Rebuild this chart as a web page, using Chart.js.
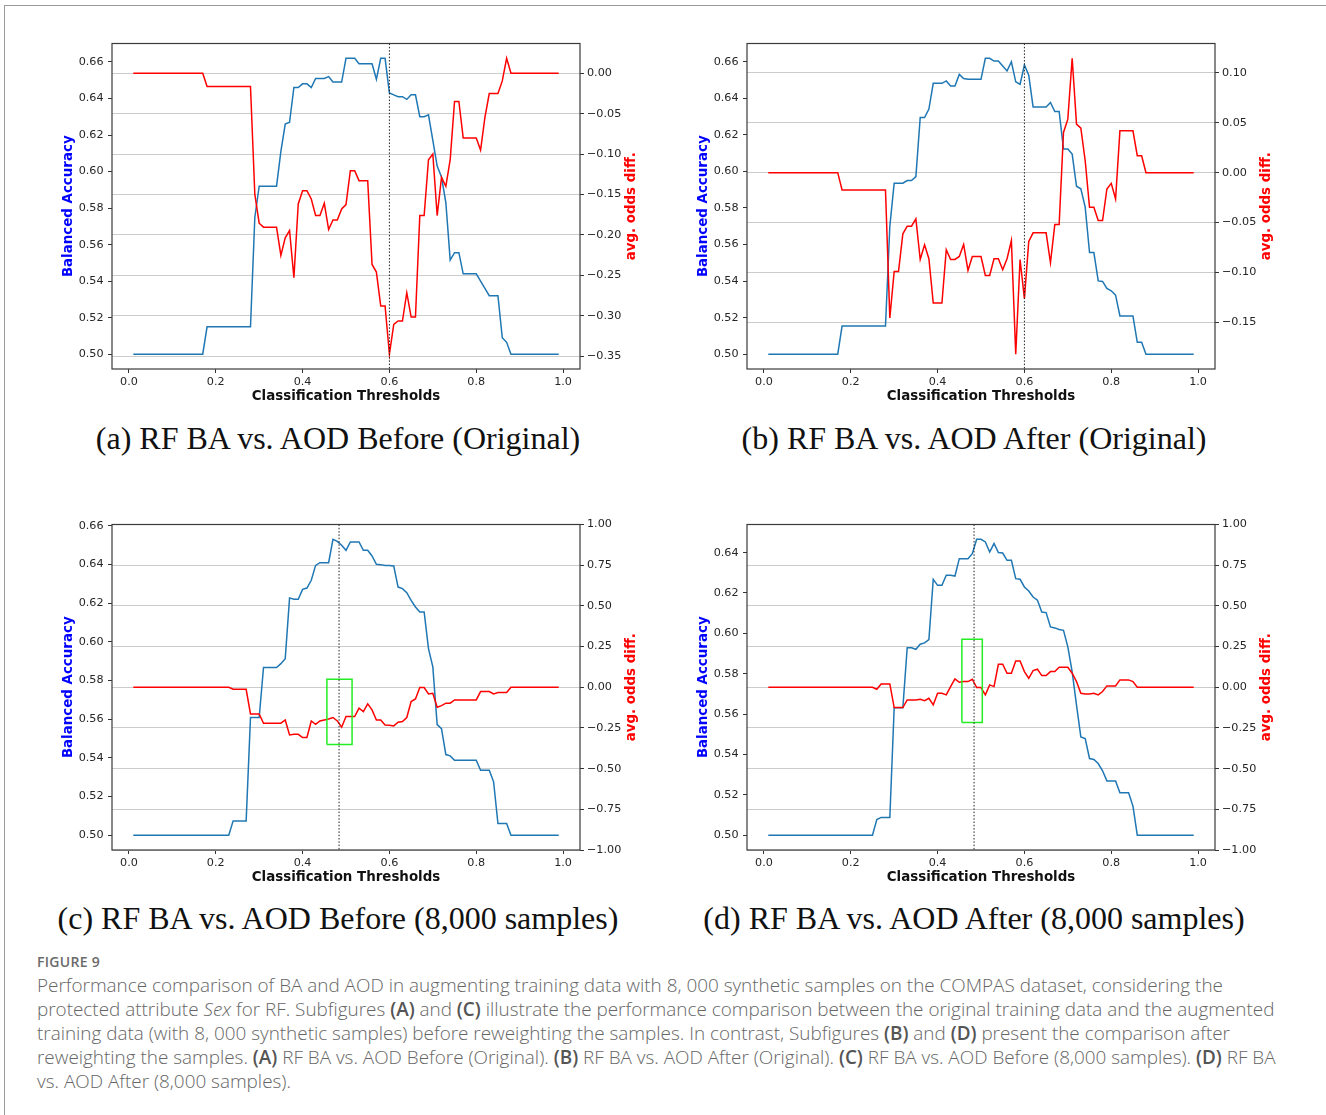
<!doctype html>
<html lang="en">
<head>
<meta charset="utf-8">
<title>Figure 9 - RF BA vs. AOD</title>
<style>
  * { margin: 0; padding: 0; }
  body { width: 1326px; height: 1115px; position: relative; overflow: hidden; background: #fff; }
  .frame { position: absolute; left: 4px; top: 5px; right: 0; bottom: 0; border-top: 1.5px solid #9a9a9a; border-left: 1.5px solid #9a9a9a; }
  canvas { position: absolute; }
  .sub { position: absolute; width: 640px; text-align: center; font-family: "Liberation Serif", serif; font-size: 32px; line-height: 36px; color: #111; white-space: nowrap; }
  .figlabel { position: absolute; left: 37px; top: 953px; font-family: "Open Sans", sans-serif; font-weight: 600; font-size: 14px; line-height: 18px; color: #6b6b6b; letter-spacing: 0.3px; }
  .caption { position: absolute; left: 37px; top: 973px; font-family: "Open Sans", sans-serif; font-weight: 300; font-size: 18.9px; line-height: 24px; color: #666; white-space: nowrap; }
  .caption b { font-weight: 600; color: #555; }
</style>
</head>
<body>
<div class="frame"></div>

<canvas id="chartA" width="620" height="380" style="left:40px; top:30px"></canvas>
<canvas id="chartB" width="620" height="380" style="left:675px; top:30px"></canvas>
<canvas id="chartC" width="620" height="380" style="left:40px; top:511px"></canvas>
<canvas id="chartD" width="620" height="380" style="left:675px; top:511px"></canvas>

<div class="sub" style="left:18px; top:420px">(a) RF BA vs. AOD Before (Original)</div>
<div class="sub" style="left:654px; top:420px">(b) RF BA vs. AOD After (Original)</div>
<div class="sub" style="left:18px; top:900px">(c) RF BA vs. AOD Before (8,000 samples)</div>
<div class="sub" style="left:654px; top:900px">(d) RF BA vs. AOD After (8,000 samples)</div>

<div class="figlabel">FIGURE 9</div>
<div class="caption">Performance comparison of BA and AOD in augmenting training data with 8, 000 synthetic samples on the COMPAS dataset, considering the<br>protected attribute <i>Sex</i> for RF. Subfigures <b>(A)</b> and <b>(C)</b> illustrate the performance comparison between the original training data and the augmented<br>training data (with 8, 000 synthetic samples) before reweighting the samples. In contrast, Subfigures <b>(B)</b> and <b>(D)</b> present the comparison after<br>reweighting the samples. <b>(A)</b> RF BA vs. AOD Before (Original). <b>(B)</b> RF BA vs. AOD After (Original). <b>(C)</b> RF BA vs. AOD Before (8,000 samples). <b>(D)</b> RF BA<br>vs. AOD After (8,000 samples).</div>

<script src="https://cdn.jsdelivr.net/npm/chart.js"></script>
<script>
// classification thresholds (x)
const thresholds = [
  0.01, 0.02, 0.03, 0.04, 0.05, 0.06, 0.07, 0.08, 0.09, 0.10,
  0.11, 0.12, 0.13, 0.14, 0.15, 0.16, 0.17, 0.18, 0.19, 0.20,
  0.21, 0.22, 0.23, 0.24, 0.25, 0.26, 0.27, 0.28, 0.29, 0.30,
  0.31, 0.32, 0.33, 0.34, 0.35, 0.36, 0.37, 0.38, 0.39, 0.40,
  0.41, 0.42, 0.43, 0.44, 0.45, 0.46, 0.47, 0.48, 0.49, 0.50,
  0.51, 0.52, 0.53, 0.54, 0.55, 0.56, 0.57, 0.58, 0.59, 0.60,
  0.61, 0.62, 0.63, 0.64, 0.65, 0.66, 0.67, 0.68, 0.69, 0.70,
  0.71, 0.72, 0.73, 0.74, 0.75, 0.76, 0.77, 0.78, 0.79, 0.80,
  0.81, 0.82, 0.83, 0.84, 0.85, 0.86, 0.87, 0.88, 0.89, 0.90,
  0.91, 0.92, 0.93, 0.94, 0.95, 0.96, 0.97, 0.98, 0.99
];

// (a) before reweighting, original data
const baBeforeOrig = [
  0.500, 0.500, 0.500, 0.500, 0.500, 0.500, 0.500, 0.500, 0.500, 0.500,
  0.500, 0.500, 0.500, 0.500, 0.500, 0.500, 0.500, 0.515, 0.515, 0.515,
  0.515, 0.515, 0.515, 0.515, 0.515, 0.515, 0.515, 0.515, 0.575, 0.592,
  0.592, 0.592, 0.592, 0.592, 0.611, 0.626, 0.627, 0.646, 0.646, 0.648,
  0.648, 0.646, 0.651, 0.651, 0.651, 0.652, 0.649, 0.649, 0.649, 0.662,
  0.662, 0.662, 0.659, 0.659, 0.659, 0.659, 0.6505, 0.662, 0.662, 0.643,
  0.642, 0.641, 0.641, 0.6395, 0.642, 0.642, 0.630, 0.630, 0.631, 0.617,
  0.603, 0.597, 0.583, 0.5515, 0.5556, 0.5556, 0.544, 0.544, 0.544, 0.544,
  0.540, 0.536, 0.532, 0.532, 0.532, 0.509, 0.5065, 0.500, 0.500, 0.500,
  0.500, 0.500, 0.500, 0.500, 0.500, 0.500, 0.500, 0.500, 0.500
];
const aodBeforeOrig = [
  0, 0, 0, 0, 0, 0, 0, 0, 0, 0,
  0, 0, 0, 0, 0, 0, 0, -0.0165, -0.0165, -0.0165,
  -0.0165, -0.0165, -0.0165, -0.0165, -0.0165, -0.0165, -0.0165, -0.0165, -0.15, -0.1856,
  -0.1905, -0.1905, -0.1905, -0.1905, -0.2255, -0.2037, -0.1947, -0.2531, -0.1617, -0.1453,
  -0.1453, -0.1556, -0.1761, -0.1761, -0.1609, -0.1934, -0.1815, -0.1815, -0.1679, -0.1626,
  -0.1206, -0.1206, -0.1329, -0.1329, -0.1329, -0.2366, -0.2461, -0.2881, -0.2881, -0.3477,
  -0.3107, -0.3066, -0.3066, -0.2716, -0.3016, -0.3016, -0.1761, -0.1761, -0.1070, -0.1000,
  -0.1761, -0.1288, -0.1399, -0.1070, -0.0350, -0.0350, -0.0802, -0.0802, -0.0802, -0.0802,
  -0.0951, -0.0547, -0.0251, -0.0251, -0.0251, -0.0095, 0.0185, 0, 0, 0,
  0, 0, 0, 0, 0, 0, 0, 0, 0
];

// (b) after reweighting, original data
const baAfterOrig = [
  0.500, 0.500, 0.500, 0.500, 0.500, 0.500, 0.500, 0.500, 0.500, 0.500,
  0.500, 0.500, 0.500, 0.500, 0.500, 0.500, 0.500, 0.5154, 0.5154, 0.5154,
  0.5154, 0.5154, 0.5154, 0.5154, 0.5154, 0.5154, 0.5154, 0.5154, 0.570, 0.5936,
  0.5936, 0.5936, 0.595, 0.595, 0.5972, 0.6295, 0.6295, 0.6341, 0.6482, 0.6482,
  0.6482, 0.6495, 0.6468, 0.6468, 0.6531, 0.6508, 0.6504, 0.6504, 0.6504, 0.6504,
  0.6619, 0.6619, 0.6604, 0.6604, 0.6577, 0.655, 0.660, 0.649, 0.6477, 0.6582,
  0.6526, 0.6353, 0.6353, 0.6353, 0.6353, 0.6377, 0.6328, 0.6328, 0.6123, 0.6123,
  0.6095, 0.5919, 0.5905, 0.5805, 0.5556, 0.5556, 0.5401, 0.5398, 0.536, 0.5347,
  0.5323, 0.5209, 0.5209, 0.5209, 0.5209, 0.5065, 0.5065, 0.500, 0.500, 0.500,
  0.500, 0.500, 0.500, 0.500, 0.500, 0.500, 0.500, 0.500, 0.500
];
const aodAfterOrig = [
  0, 0, 0, 0, 0, 0, 0, 0, 0, 0,
  0, 0, 0, 0, 0, 0, 0, -0.0173, -0.0173, -0.0173,
  -0.0173, -0.0173, -0.0173, -0.0173, -0.0173, -0.0173, -0.0173, -0.0173, -0.1457, -0.099,
  -0.099, -0.0613, -0.0537, -0.0537, -0.0463, -0.087, -0.0723, -0.0863, -0.1307, -0.1307,
  -0.1307, -0.0773, -0.087, -0.087, -0.084, -0.072, -0.098, -0.084, -0.084, -0.084,
  -0.103, -0.103, -0.0863, -0.0863, -0.0973, -0.0863, -0.068, -0.182, -0.087, -0.1263,
  -0.069, -0.0603, -0.0603, -0.0603, -0.0603, -0.0903, -0.052, -0.052, 0.0403, 0.0537,
  0.1147, 0.0487, 0.0447, 0.012, -0.0347, -0.0347, -0.048, -0.048, -0.0163, -0.0107,
  -0.0263, 0.042, 0.042, 0.042, 0.042, 0.017, 0.017, 0, 0, 0,
  0, 0, 0, 0, 0, 0, 0, 0, 0
];

// (c) before reweighting, 8,000 synthetic samples
const baBefore8k = [
  0.500, 0.500, 0.500, 0.500, 0.500, 0.500, 0.500, 0.500, 0.500, 0.500,
  0.500, 0.500, 0.500, 0.500, 0.500, 0.500, 0.500, 0.500, 0.500, 0.500,
  0.500, 0.500, 0.500, 0.5074, 0.5074, 0.5074, 0.5074, 0.5608, 0.5608, 0.5608,
  0.5867, 0.5867, 0.5867, 0.5867, 0.5887, 0.5913, 0.6227, 0.622, 0.622, 0.6271,
  0.6278, 0.6318, 0.6395, 0.6409, 0.6409, 0.6409, 0.653, 0.6519, 0.6499, 0.6473,
  0.6516, 0.6516, 0.6516, 0.6473, 0.6473, 0.6444, 0.6401, 0.6399, 0.6395, 0.6395,
  0.6392, 0.6283, 0.6275, 0.6254, 0.6214, 0.618, 0.6154, 0.6154, 0.5965, 0.587,
  0.5572, 0.5551, 0.5417, 0.541, 0.5388, 0.5388, 0.5388, 0.5388, 0.5388, 0.5388,
  0.5336, 0.5336, 0.5336, 0.5276, 0.506, 0.506, 0.506, 0.500, 0.500, 0.500,
  0.500, 0.500, 0.500, 0.500, 0.500, 0.500, 0.500, 0.500, 0.500
];
const aodBefore8k = [
  0, 0, 0, 0, 0, 0, 0, 0, 0, 0,
  0, 0, 0, 0, 0, 0, 0, 0, 0, 0,
  0, 0, 0, -0.0123, -0.0123, -0.0123, -0.0123, -0.164, -0.164, -0.164,
  -0.221, -0.221, -0.221, -0.221, -0.221, -0.2008, -0.293, -0.289, -0.289, -0.309,
  -0.309, -0.207, -0.2275, -0.207, -0.201, -0.195, -0.186, -0.207, -0.246, -0.18,
  -0.18, -0.18, -0.129, -0.15, -0.102, -0.139, -0.201, -0.201, -0.2316, -0.234,
  -0.2377, -0.215, -0.211, -0.186, -0.088, -0.0717, -0.002, -0.002, -0.041, -0.037,
  -0.123, -0.1127, -0.098, -0.098, -0.078, -0.078, -0.078, -0.078, -0.078, -0.078,
  -0.0266, -0.0266, -0.0266, -0.041, -0.0328, -0.0328, -0.0328, 0, 0, 0,
  0, 0, 0, 0, 0, 0, 0, 0, 0
];

// (d) after reweighting, 8,000 synthetic samples
const baAfter8k = [
  0.500, 0.500, 0.500, 0.500, 0.500, 0.500, 0.500, 0.500, 0.500, 0.500,
  0.500, 0.500, 0.500, 0.500, 0.500, 0.500, 0.500, 0.500, 0.500, 0.500,
  0.500, 0.500, 0.500, 0.500, 0.500, 0.5078, 0.5088, 0.5088, 0.5088, 0.5631,
  0.5631, 0.5631, 0.5929, 0.5929, 0.5921, 0.5946, 0.5953, 0.5969, 0.6268, 0.6238,
  0.6238, 0.6288, 0.6288, 0.6284, 0.637, 0.637, 0.637, 0.6395, 0.6466, 0.6466,
  0.6453, 0.6403, 0.6445, 0.640, 0.6398, 0.6362, 0.6362, 0.6271, 0.6268, 0.623,
  0.621, 0.618, 0.6164, 0.6106, 0.6103, 0.6032, 0.6027, 0.6019, 0.6015, 0.5933,
  0.5809, 0.5644, 0.5487, 0.5479, 0.538, 0.5375, 0.5355, 0.5319, 0.5269, 0.5269,
  0.5269, 0.521, 0.521, 0.521, 0.5144, 0.500, 0.500, 0.500, 0.500, 0.500,
  0.500, 0.500, 0.500, 0.500, 0.500, 0.500, 0.500, 0.500, 0.500
];
const aodAfter8k = [
  0, 0, 0, 0, 0, 0, 0, 0, 0, 0,
  0, 0, 0, 0, 0, 0, 0, 0, 0, 0,
  0, 0, 0, 0, 0, -0.0123, 0.0205, 0.0205, 0.0205, -0.125,
  -0.125, -0.125, -0.0779, -0.0779, -0.0779, -0.0738, -0.082, -0.0676, -0.1086, -0.0369,
  -0.0369, -0.0471, 0.0041, 0.0512, 0.0307, 0.0348, 0.0348, 0.0492, -0.002, -0.002,
  -0.0471, 0.0143, 0.0041, 0.1414, 0.1414, 0.0861, 0.0861, 0.1619, 0.1619, 0.0963,
  0.0553, 0.1025, 0.1107, 0.0717, 0.0717, 0.0963, 0.0963, 0.123, 0.123, 0.123,
  0.0861, 0.0348, -0.0369, -0.041, -0.041, -0.0369, -0.0471, -0.0266, 0.0082, 0.0082,
  0.0082, 0.0451, 0.0451, 0.0451, 0.0348, 0, 0, 0, 0, 0,
  0, 0, 0, 0, 0, 0, 0, 0, 0
];

// tick labels
const xTicks = [0.0, 0.2, 0.4, 0.6, 0.8, 1.0];
const baTicks = [0.50, 0.52, 0.54, 0.56, 0.58, 0.60, 0.62, 0.64, 0.66];
const baTicksD = [0.50, 0.52, 0.54, 0.56, 0.58, 0.60, 0.62, 0.64];
const aodTicksA = [0.00, -0.05, -0.10, -0.15, -0.20, -0.25, -0.30, -0.35];
const aodTicksB = [0.10, 0.05, 0.00, -0.05, -0.10, -0.15];
const aodTicks8k = [1.00, 0.75, 0.50, 0.25, 0.00, -0.25, -0.50, -0.75, -1.00];
const aodLimits8k = [-1, 1];

// chosen threshold (dotted line) and highlighted region [x0, x1, y0, y1] on the AOD axis
const bestThreshold = { A: 0.6, B: 0.6, C: 0.484, D: 0.484 };
const highlightC = [0.456, 0.514, -0.352, 0.049];
const highlightD = [0.456, 0.503, -0.217, 0.295];

// --- helpers ---
function autoRange(values) {
  const lo = Math.min(...values), hi = Math.max(...values);
  const m = (hi - lo) * 0.05;
  return [lo - m, hi + m];
}
const fmt = (v, d) => v.toFixed(d).replace('-', '\u2212');
const pts = ys => thresholds.map((t, i) => ({ x: t, y: ys[i] }));

const TICK_FONT = { family: 'DejaVu Sans', size: 11.2 };
const TITLE_FONT = { family: 'DejaVu Sans', size: 13.4, weight: 'bold' };

const frame = {
  id: 'frame',
  afterDatasetsDraw(chart, args, opts) {
    const { ctx, chartArea: a, scales } = chart;
    const x = scales.x.getPixelForValue(opts.best);
    ctx.save();
    ctx.strokeStyle = '#222';
    ctx.lineWidth = 1;
    ctx.setLineDash([1.5, 1.8]);
    ctx.beginPath();
    ctx.moveTo(x, a.top);
    ctx.lineTo(x, a.bottom);
    ctx.stroke();
    ctx.setLineDash([]);
    ctx.strokeStyle = '#3a3a3a';
    ctx.lineWidth = 1.2;
    ctx.strokeRect(a.left, a.top, a.right - a.left, a.bottom - a.top);
    // right axis title reads bottom-to-top like the left one
    ctx.translate(scales.y2.right - 28.5, (a.top + a.bottom) / 2);
    ctx.rotate(-Math.PI / 2);
    ctx.font = 'bold 13.4px "DejaVu Sans"';
    ctx.fillStyle = '#ff0000';
    ctx.textAlign = 'center';
    ctx.textBaseline = 'middle';
    ctx.fillText('avg. odds diff.', 0, 0);
    ctx.restore();
  }
};

function makeChart(id, ba, aod, leftTicks, rightTicks, rightLimits, best, box) {
  const baRange = autoRange(ba);
  const aodRange = rightLimits || autoRange(aod);

  const datasets = [
    { data: pts(aod), yAxisID: 'y2', borderColor: '#ff0000' },
    { data: pts(ba), yAxisID: 'y', borderColor: '#1f77b4' }
  ];
  if (box) {
    datasets.unshift({
      data: [
        { x: box[0], y: box[2] }, { x: box[1], y: box[2] },
        { x: box[1], y: box[3] }, { x: box[0], y: box[3] },
        { x: box[0], y: box[2] }
      ],
      yAxisID: 'y2',
      borderColor: '#22ee22'
    });
  }
  datasets.forEach(d => {
    d.borderWidth = 1.5;
    d.pointRadius = 0;
    d.fill = false;
    d.tension = 0;
  });

  return new Chart(document.getElementById(id), {
    type: 'line',
    data: { datasets },
    options: {
      responsive: false,
      animation: false,
      events: [],
      layout: { padding: { top: 13.5, left: 0, right: 0, bottom: 0 } },
      plugins: { legend: { display: false }, tooltip: { enabled: false }, frame: { best } },
      scales: {
        x: {
          type: 'linear',
          min: -0.039,
          max: 1.039,
          afterBuildTicks: s => { s.ticks = xTicks.map(v => ({ value: v })); },
          afterFit: s => { s.height = 41; },
          ticks: { callback: v => fmt(v, 1), padding: 2.5, maxRotation: 0, autoSkip: false, font: TICK_FONT, color: '#262626' },
          grid: { drawOnChartArea: false, tickLength: 4, tickColor: '#333', lineWidth: 1 },
          border: { display: false },
          title: { display: true, text: 'Classification Thresholds', font: TITLE_FONT, color: '#111', padding: { top: 0, bottom: 5.5 } }
        },
        y: {
          position: 'left',
          min: baRange[0],
          max: baRange[1],
          afterBuildTicks: s => { s.ticks = leftTicks.map(v => ({ value: v })); },
          afterFit: s => { s.width = 72; },
          ticks: { callback: v => fmt(v, 2), padding: 4.4, autoSkip: false, font: TICK_FONT, color: '#262626' },
          grid: { drawOnChartArea: false, tickLength: 4, tickColor: '#333' },
          border: { display: false },
          title: { display: true, text: 'Balanced Accuracy', font: TITLE_FONT, color: '#0000ff', padding: { top: 20, bottom: 0 } }
        },
        y2: {
          position: 'right',
          min: aodRange[0],
          max: aodRange[1],
          afterBuildTicks: s => { s.ticks = rightTicks.map(v => ({ value: v })); },
          afterFit: s => { s.width = 80; },
          ticks: { callback: v => fmt(v, 2), padding: 3, autoSkip: false, font: TICK_FONT, color: '#262626' },
          grid: { color: '#cccccc', lineWidth: 1, tickLength: 4, tickColor: '#333' },
          border: { display: false }
        }
      }
    },
    plugins: [frame]
  });
}

makeChart('chartA', baBeforeOrig, aodBeforeOrig, baTicks, aodTicksA, null, bestThreshold.A, null);
makeChart('chartB', baAfterOrig, aodAfterOrig, baTicks, aodTicksB, null, bestThreshold.B, null);
makeChart('chartC', baBefore8k, aodBefore8k, baTicks, aodTicks8k, aodLimits8k, bestThreshold.C, highlightC);
makeChart('chartD', baAfter8k, aodAfter8k, baTicksD, aodTicks8k, aodLimits8k, bestThreshold.D, highlightD);
</script>
</body>
</html>
